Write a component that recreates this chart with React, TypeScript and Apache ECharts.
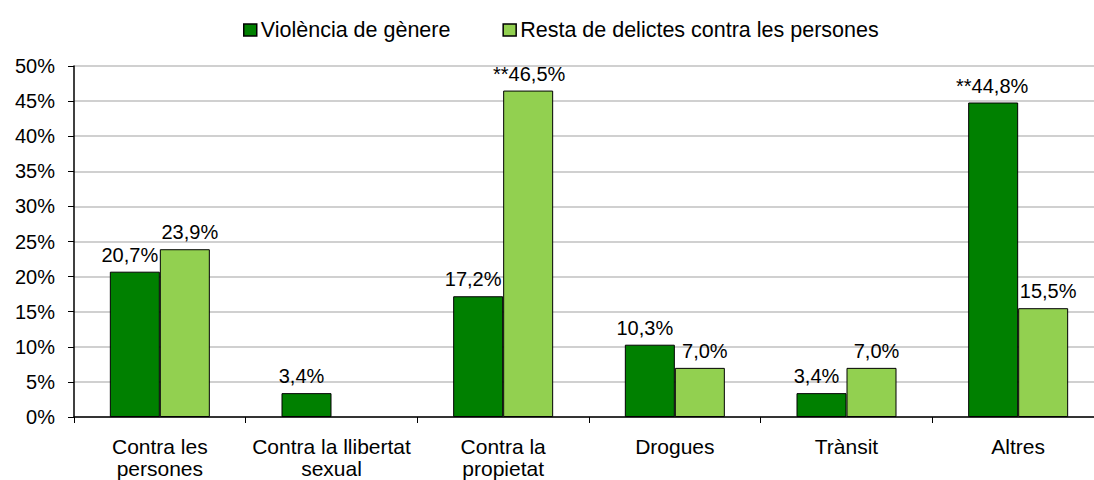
import React, { useEffect, useRef } from "react";
import * as echarts from "echarts";

const categories = [
  "Contra les\npersones",
  "Contra la llibertat\nsexual",
  "Contra la\npropietat",
  "Drogues",
  "Trànsit",
  "Altres",
];
const seriesNames = ["Violència de gènere", "Resta de delictes contra les persones"];
const violencia = [20.7, 3.4, 17.2, 10.3, 3.4, 44.8];
const resta = [23.9, null, 46.5, 7.0, 7.0, 15.5];
const violenciaPrefix = ["", "", "", "", "", "**"];
const restaPrefix = ["", "", "**", "", "", ""];
const yTicks = [0, 5, 10, 15, 20, 25, 30, 35, 40, 45, 50];

const FONT = "'Liberation Sans', Arial, sans-serif";

function fmt(v: number) {
  return v.toFixed(1).replace(".", ",") + "%";
}

function buildData(values: (number | null)[], prefix: string[], side: number) {
  return values.map((v, i) => ({
    value: v,
    label: {
      show: v !== null,
      formatter: prefix[i] + (v === null ? "" : fmt(v)),
      offset: [prefix[i] ? side * 1 : side * 5, 0],
    },
  }));
}

export default function App() {
  const ref = useRef<HTMLDivElement>(null);
  useEffect(() => {
    if (!ref.current) return;
    const chart = echarts.init(ref.current, null, { renderer: "svg" });
    const labelBase = {
      show: true,
      position: "top",
      distance: 7,
      color: "#000",
      fontFamily: FONT,
      fontSize: 20,
    };
    chart.setOption({
      animation: false,
      backgroundColor: "#fff",
      textStyle: { fontFamily: FONT },
      legend: {
        left: 238,
        top: 14,
        icon: "rect",
        itemWidth: 13,
        itemHeight: 12,
        itemGap: 52,
        itemStyle: { borderColor: "#000", borderWidth: 1.5 },
        textStyle: { fontFamily: FONT, fontSize: 21.5, color: "#000", padding: [0, 0, 0, -1] },
        data: seriesNames,
      },
      grid: { left: 74, top: 66, right: 6, bottom: 63, containLabel: false },
      xAxis: {
        type: "category",
        data: categories,
        axisLine: { lineStyle: { color: "#000", width: 1.5 } },
        axisTick: { show: true, length: 6, lineStyle: { color: "#000", width: 1 } },
        axisLabel: {
          color: "#000",
          fontFamily: FONT,
          fontSize: 21,
          lineHeight: 22,
          margin: 18,
          interval: 0,
        },
      },
      yAxis: {
        type: "value",
        min: yTicks[0],
        max: yTicks[yTicks.length - 1],
        interval: 5,
        axisLine: { show: true, lineStyle: { color: "#000", width: 1.5 } },
        axisTick: { show: true, length: 6, lineStyle: { color: "#000", width: 1 } },
        splitLine: { lineStyle: { color: "#c0c0c0", width: 1.5 } },
        axisLabel: {
          color: "#000",
          fontFamily: FONT,
          fontSize: 20,
          margin: 19,
          formatter: (v: number) => v + "%",
        },
      },
      series: [
        {
          name: seriesNames[0],
          type: "bar",
          barWidth: 50,
          barGap: "0%",
          itemStyle: { color: "#008000", borderColor: "#000", borderWidth: 1 },
          label: labelBase,
          data: buildData(violencia, violenciaPrefix, -1),
        },
        {
          name: seriesNames[1],
          type: "bar",
          barWidth: 50,
          barGap: "0%",
          itemStyle: { color: "#92D050", borderColor: "#000", borderWidth: 1 },
          label: labelBase,
          data: buildData(resta, restaPrefix, 1),
        },
      ],
    });
    return () => chart.dispose();
  }, []);
  return (
    <div
      style={{
        position: "absolute",
        left: 0,
        top: 0,
        width: 1094,
        height: 480,
        overflow: "hidden",
        background: "#fff",
      }}
    >
      <div ref={ref} style={{ width: 1110, height: 480 }} />
    </div>
  );
}
